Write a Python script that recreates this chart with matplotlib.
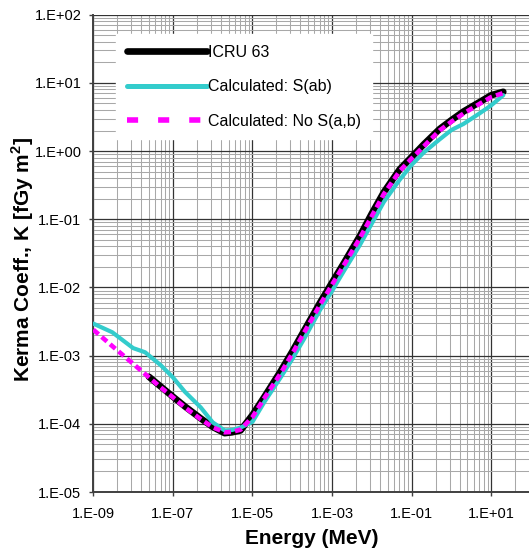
import matplotlib
matplotlib.use("Agg")
import matplotlib.pyplot as plt
from matplotlib.ticker import FixedLocator, FuncFormatter, NullFormatter
from matplotlib.lines import Line2D
import numpy as np

plt.rcParams['font.family'] = ['Liberation Sans', 'DejaVu Sans']
plt.rcParams['mathtext.fontset'] = 'custom'
plt.rcParams['mathtext.rm'] = 'Liberation Sans'
plt.rcParams['mathtext.bf'] = 'Liberation Sans:bold'
plt.rcParams['lines.scale_dashes'] = False

# ---------------- data (energy in MeV, kerma coeff. in fGy m^2) ----------------
E_icru = [2.5e-8, 5e-8, 1e-7, 2e-7, 5e-7, 1e-6, 2e-6, 3e-6, 5e-6, 1e-5, 2e-5, 5e-5,
          1e-4, 2e-4, 5e-4, 1e-3, 2e-3, 5e-3, 1e-2, 2e-2, 5e-2, 1e-1, 2e-1, 5e-1,
          1, 2, 5, 10, 20]
K_icru = [4.9e-4, 3.5e-4, 2.5e-4, 1.8e-4, 1.2e-4, 9.0e-5, 7.3e-5, 7.5e-5, 8.0e-5, 1.35e-4, 2.5e-4, 5.8e-4,
          1.15e-3, 2.35e-3, 6.0e-3, 0.0118, 0.023, 0.057, 0.122, 0.25, 0.54, 0.82, 1.25, 2.1,
          2.85, 3.8, 5.2, 6.6, 7.4]

E_sab = [1e-9, 3e-9, 1e-8, 2e-8, 5e-8, 1e-7, 2e-7, 5e-7, 1e-6, 2e-6, 3e-6, 5e-6, 1e-5, 2e-5, 5e-5,
         1e-4, 2e-4, 5e-4, 1e-3, 2e-3, 5e-3, 1e-2, 2e-2, 5e-2, 1e-1, 2e-1, 5e-1,
         1, 2, 5, 10, 20]
K_sab = [2.95e-3, 2.2e-3, 1.29e-3, 1.12e-3, 7.2e-4, 4.8e-4, 2.95e-4, 1.74e-4, 1.05e-4, 8.0e-5, 8.1e-5, 8.8e-5, 1.07e-4, 2.1e-4, 4.7e-4,
         8.9e-4, 1.78e-3, 4.7e-3, 8.9e-3, 0.0176, 0.042, 0.087, 0.18, 0.38, 0.63, 0.95, 1.48,
         2.04, 2.5, 3.55, 4.7, 6.6]

E_nosab = [1e-9, 3e-9, 1e-8, 2.5e-8, 5e-8, 1e-7, 2e-7, 5e-7, 1e-6, 2e-6, 3e-6, 5e-6, 1e-5, 2e-5, 5e-5,
           1e-4, 2e-4, 5e-4, 1e-3, 2e-3, 5e-3, 1e-2, 2e-2, 5e-2, 1e-1, 2e-1, 5e-1,
           1, 2, 5, 10, 20]
K_nosab = [2.4e-3, 1.38e-3, 7.6e-4, 4.8e-4, 3.4e-4, 2.45e-4, 1.74e-4, 1.17e-4, 8.9e-5, 7.5e-5, 7.6e-5, 8.2e-5, 1.26e-4, 2.4e-4, 5.4e-4,
           1.07e-3, 2.2e-3, 5.6e-3, 0.011, 0.0215, 0.053, 0.112, 0.235, 0.51, 0.78, 1.17, 2.0,
           2.7, 3.55, 4.9, 6.2, 7.1]

labels = ['ICRU 63', 'Calculated: S(ab)', 'Calculated: No S(a,b)']
c_icru, c_sab, c_nosab = '#000000', '#33CCCC', '#FF00FF'

#------------------------------------------------------------------------------
W, H = 529, 552
fig = plt.figure(figsize=(W/100, H/100), dpi=100)
x0, x1, y0, y1 = 93.3, 529, 14.7, 492   # plot area in pixels
ax = fig.add_axes([x0/W, 1 - y1/H, (x1 - x0)/W, (y1 - y0)/H])

ax.plot(E_icru, K_icru, color=c_icru, lw=4.8, solid_capstyle='round', solid_joinstyle='round', zorder=3)
ax.plot(E_sab, K_sab, color=c_sab, lw=3.0, solid_capstyle='round', solid_joinstyle='round', zorder=4)
ax.plot(E_nosab, K_nosab, color=c_nosab, lw=3.3, dashes=(5, 3), zorder=5)

ax.set_xscale('log')
ax.set_yscale('log')
ax.set_xlim(1e-9, 10**(-9 + (x1 - x0)/39.8))
ax.set_ylim(1e-5, 1e2)

# x axis: major every 2 decades, minor lines like an Excel base-100 log axis
xmaj = [10.0**p for p in range(-9, 2, 2)]
xmin = [k**2 * 10.0**p for p in range(-9, 2, 2) for k in range(2, 10)]
ax.xaxis.set_major_locator(FixedLocator(xmaj))
ax.xaxis.set_minor_locator(FixedLocator(xmin))
ymaj = [10.0**p for p in range(-5, 3)]
ymin = [k * 10.0**p for p in range(-5, 2) for k in range(2, 10)]
ax.yaxis.set_major_locator(FixedLocator(ymaj))
ax.yaxis.set_minor_locator(FixedLocator(ymin))

fmt = FuncFormatter(lambda v, pos: "1.E%+03d" % int(round(np.log10(v))))
ax.xaxis.set_major_formatter(fmt)
ax.yaxis.set_major_formatter(fmt)
ax.xaxis.set_minor_formatter(NullFormatter())
ax.yaxis.set_minor_formatter(NullFormatter())

ax.grid(True, which='major', color='#333333', lw=0.9, zorder=1)
ax.grid(True, which='minor', color='#a8a8a8', lw=0.75, zorder=0)
ax.set_axisbelow(True)

for s in ['top', 'right']:
    ax.spines[s].set_visible(False)
for s in ['left', 'bottom']:
    ax.spines[s].set_color('#404040')
    ax.spines[s].set_linewidth(1.4)

ax.tick_params(which='major', direction='out', length=3, width=1, color='#404040', labelsize=10.5)
ax.tick_params(axis='x', which='major', pad=8)
ax.tick_params(axis='y', which='major', pad=5.5)
ax.tick_params(which='minor', length=0)

ax.set_xlabel('Energy (MeV)', fontsize=15, fontweight='bold', va='center')
ax.xaxis.set_label_coords((312 - x0)/(x1 - x0), (y1 - 538.5)/(y1 - y0))
ax.set_ylabel(r'Kerma Coeff., K [fGy m$^{\mathbf{2}}$]', fontsize=15, fontweight='bold', va='center')
ax.yaxis.set_label_coords((23 - x0)/(x1 - x0), (y1 - 259.6)/(y1 - y0))

# legend
handles = [Line2D([], [], color=c_icru, lw=4.8, solid_capstyle='round'),
           Line2D([], [], color=c_sab, lw=3.6, solid_capstyle='round'),
           Line2D([], [], color=c_nosab, lw=4.0, dashes=(8, 14.4))]
leg = ax.legend(handles, labels, loc='upper left', bbox_to_anchor=(116/W, 1 - 34/H),
                bbox_transform=fig.transFigure, borderaxespad=0, fontsize=11.5,
                handlelength=5.0, handletextpad=0.1, borderpad=0.67, labelspacing=1.22,
                fancybox=False, framealpha=1, facecolor='white', edgecolor='white')
leg.set_zorder(10)

plt.savefig('out.png', dpi=100)
